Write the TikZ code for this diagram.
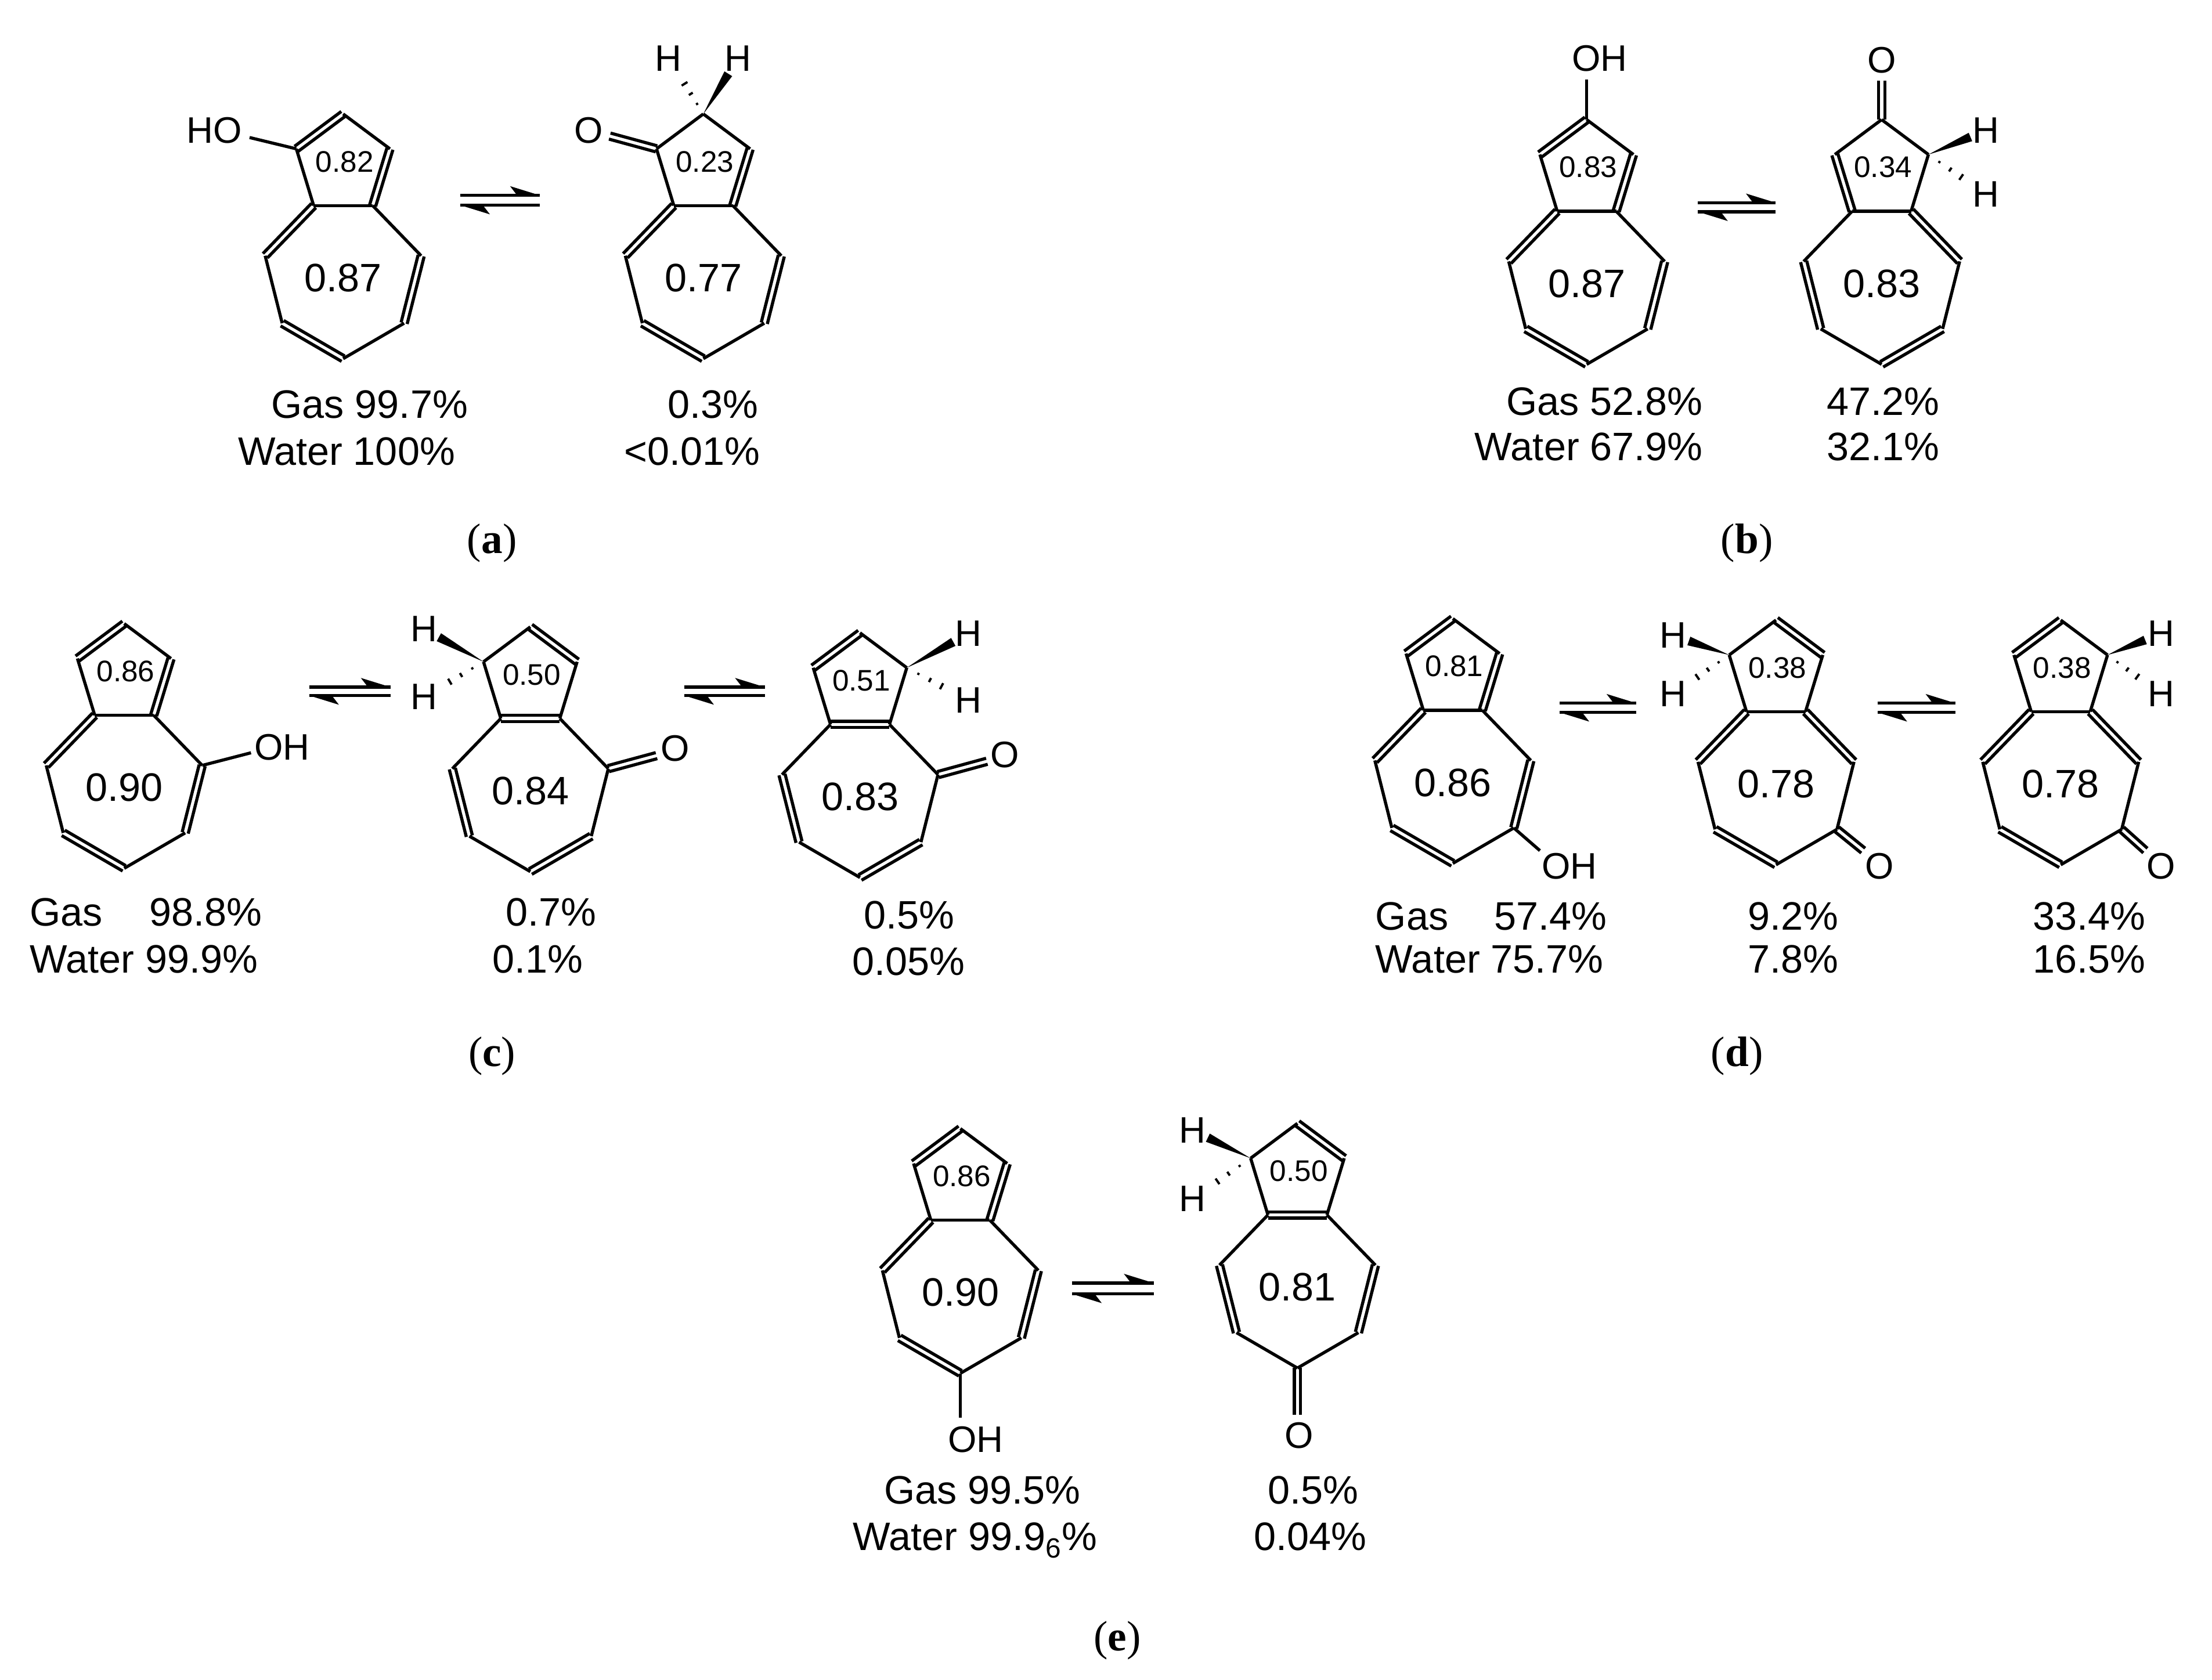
\documentclass[tikz,border=0pt]{standalone}
\usepackage{fontspec}
\setmainfont{Liberation Sans}
\newfontfamily\serifp{Liberation Serif}
\usetikzlibrary{calc}
\newcommand\dd{2.2pt}
\newcommand\dbnd[2]{\draw ($(#1)!\dd!90:(#2)$) -- ($(#2)!\dd!-90:(#1)$); \draw ($(#1)!\dd!-90:(#2)$) -- ($(#2)!\dd!90:(#1)$);}
\newcommand\azu[5]{%
 \coordinate (#1f1) at ({#2-20.8},{#3}); \coordinate (#1f2) at ({#2+20.8},{#3});
 \coordinate (#1p1) at ({#2-33},{#3-40}); \coordinate (#1p2) at ({#2},{#3-64.6}); \coordinate (#1p3) at ({#2+33},{#3-40});
 \coordinate (#1h1) at ({#2-55},{#3+35.4}); \coordinate (#1h2) at ({#2-43},{#3+83});
 \coordinate (#1h3) at ({#2},{#3+108}); \coordinate (#1h4) at ({#2+43},{#3+83}); \coordinate (#1h5) at ({#2+55},{#3+35.4});
 \node[font=\fontsize{21}{21}\selectfont] (#1n5) at ({#2+1},{#3-31}) {#4};
 \node[font=\fontsize{28}{28}\selectfont] (#1n7) at ({#2},{#3+51}) {#5};}
\newcommand\sbs[2]{\foreach \a/\b in {#2} {\draw (#1\a) -- (#1\b);}}
\newcommand\dbs[2]{\foreach \a/\b in {#2} {\dbnd{#1\a}{#1\b}}}
\newcommand\std[1]{\dbs{#1}{p1/p2,p3/f2,f1/h1,h2/h3,h4/h5}\sbs{#1}{f1/f2,p2/p3,p1/f1,h1/h2,h3/h4,h5/f2}}
\newcommand\swdg[2]{\fill (#1) -- ($(#2)!3.2pt!90:(#1)$) -- ($(#2)!3.2pt!-90:(#1)$) -- cycle;}
\newcommand\hwdg[2]{\foreach \t in {0.25,0.5,0.75,1.0} {\pgfmathsetmacro\w{3.2*\t}
  \coordinate (hm) at ($(#1)!\t!(#2)$); \draw[line width=1.6pt] ($(hm)!\w pt!90:(#2)$) -- ($(hm)!\w pt!-90:(#2)$);}}
\newcommand\eqa[4]{\draw (#1,#3) -- (#2,#3); \fill (#2,#3) -- ({#2-21},{#3-6.5}) -- ({#2-16},{#3}) -- cycle;
  \draw (#2,#4) -- (#1,#4); \fill (#1,#4) -- ({#1+21},{#4+6.5}) -- ({#1+16},{#4}) -- cycle;}
\tikzset{lab/.style={font=\fontsize{26}{26}\selectfont,inner sep=0pt},
  pc/.style={font=\fontsize{28}{28}\selectfont,inner sep=0pt},
  pan/.style={font=\serifp\fontsize{30}{30}\selectfont}}
\begin{document}
\begin{tikzpicture}[x=1pt,y=-1pt,line width=2.2pt]
\useasboundingbox (0,0) rectangle (1560,1185);
% (a)
\azu{aA}{242}{145}{0.82}{0.87}\std{aA}
\node[lab] (aAOH) at (151,92) {HO}; \coordinate (aAo) at (176,97); \draw (aAp1) -- (aAo);
\azu{aB}{496}{145}{0.23}{0.77}
\dbs{aB}{p3/f2,f1/h1,h2/h3,h4/h5}\sbs{aB}{f1/f2,p2/p3,p1/p2,p1/f1,h1/h2,h3/h4,h5/f2}
\node[lab] (aBO) at (415,92) {O}; \coordinate (aBo) at (430,96); \dbnd{aBp1}{aBo}
\node[lab] (aBH1) at (471.5,41) {H}; \node[lab] (aBH2) at (520.5,41) {H};
\hwdg{aBp2}{$(aBH1)!13pt!(aBp2)$} \swdg{aBp2}{$(aBH2)!13pt!(aBp2)$}
\eqa{324.5}{380.7}{137.8}{144.7}
\node[pc,anchor=base east] (aG1) at (331,295) {Gas 99.7\%};
\node[pc,anchor=base east] (aW1) at (322,328) {Water 100\%};
\node[pc,anchor=base east] (aG2) at (536,295) {0.3\%};
\node[pc,anchor=base east] (aW2) at (537,328) {<0.01\%};
\node[pan] (la) at (347,383) {(\textbf{a})};
% (b)
\azu{bA}{1119}{149}{0.83}{0.87}\std{bA}
\node[lab] (bAOH) at (1128,41) {OH}; \coordinate (bAo) at (1119,56); \draw (bAp2) -- (bAo);
\azu{bB}{1327}{149}{0.34}{0.83}
\dbs{bB}{p1/f1,f2/h5,h1/h2,h3/h4}\sbs{bB}{f1/f2,f2/p3,p3/p2,p2/p1,f1/h1,h2/h3,h4/h5}
\node[lab] (bBO) at (1327,42.5) {O}; \coordinate (bBo) at (1327,57); \dbnd{bBp2}{bBo}
\node[lab] (bBH1) at (1400.7,92) {H}; \node[lab] (bBH2) at (1400.7,137) {H};
\swdg{bBp3}{$(bBH1)!12pt!(bBp3)$} \hwdg{bBp3}{$(bBH2)!12pt!(bBp3)$}
\eqa{1197.5}{1252.3}{143}{149.4}
\node[pc,anchor=base east] (bG1) at (1202,293) {Gas 52.8\%};
\node[pc,anchor=base east] (bW1) at (1202,325) {Water 67.9\%};
\node[pc,anchor=base east] (bG2) at (1369,293) {47.2\%};
\node[pc,anchor=base east] (bW2) at (1369,325) {32.1\%};
\node[pan] (lb) at (1232,383) {(\textbf{b})};
% (c)
\azu{cA}{87.6}{504.5}{0.86}{0.90}\std{cA}
\node[lab] (cAOH) at (199,527) {OH}; \coordinate (cAo) at (177,531); \draw (cAh5) -- (cAo);
\azu{cB}{374}{506.8}{0.50}{0.84}
\dbs{cB}{f1/f2,p2/p3,h1/h2,h3/h4}\sbs{cB}{f2/p3,p1/p2,p1/f1,f1/h1,h2/h3,h4/h5,h5/f2}
\node[lab] (cBO) at (476,528) {O}; \coordinate (cBo) at (463,533); \dbnd{cBh5}{cBo}
\node[lab] (cBH1) at (299,443.7) {H}; \node[lab] (cBH2) at (299,491.6) {H};
\swdg{cBp1}{$(cBH1)!12pt!(cBp1)$} \hwdg{cBp1}{$(cBH2)!12pt!(cBp1)$}
\azu{cC}{606.5}{511}{0.51}{0.83}
\dbs{cC}{f1/f2,p1/p2,h1/h2,h3/h4}\sbs{cC}{f2/p3,p2/p3,p1/f1,f1/h1,h2/h3,h4/h5,h5/f2}
\node[lab] (cCO) at (708.8,532.2) {O}; \coordinate (cCo) at (696,537); \dbnd{cCh5}{cCo}
\node[lab] (cCH1) at (682.8,447) {H}; \node[lab] (cCH2) at (682.8,494) {H};
\swdg{cCp3}{$(cCH1)!12pt!(cCp3)$} \hwdg{cCp3}{$(cCH2)!12pt!(cCp3)$}
\eqa{218}{275.5}{484.7}{490.6}
\eqa{482.5}{539.4}{484.7}{490.6}
\node[pc,anchor=base west] (cG0) at (20,653) {Gas};
\node[pc,anchor=base east] (cG1) at (186,653) {98.8\%};
\node[pc,anchor=base west] (cW1) at (20,686.4) {Water 99.9\%};
\node[pc,anchor=base east] (cG2) at (421.5,653) {0.7\%};
\node[pc,anchor=base east] (cW2) at (412.4,686.4) {0.1\%};
\node[pc,anchor=base east] (cG3) at (674.2,655) {0.5\%};
\node[pc,anchor=base east] (cW3) at (681.4,688) {0.05\%};
\node[pan] (lc) at (347,745) {(\textbf{c})};
% (d)
\azu{dA}{1024.6}{501}{0.81}{0.86}\std{dA}
\node[lab] (dAOH) at (1106.9,611) {OH}; \coordinate (dAo) at (1086,600); \draw (dAh4) -- (dAo);
\azu{dB}{1252.5}{502}{0.38}{0.78}
\dbs{dB}{p2/p3,f1/h1,f2/h5,h2/h3}\sbs{dB}{f1/f2,f2/p3,p1/p2,p1/f1,h1/h2,h3/h4,h4/h5}
\node[lab] (dBO) at (1325.4,611) {O}; \coordinate (dBo) at (1314,600); \dbnd{dBh4}{dBo}
\node[lab] (dBH1) at (1179.7,448.2) {H}; \node[lab] (dBH2) at (1179.7,489.5) {H};
\swdg{dBp1}{$(dBH1)!12pt!(dBp1)$} \hwdg{dBp1}{$(dBH2)!12pt!(dBp1)$}
\azu{dC}{1453.3}{502}{0.38}{0.78}
\dbs{dC}{p1/p2,f1/h1,f2/h5,h2/h3}\sbs{dC}{f1/f2,f2/p3,p2/p3,p1/f1,h1/h2,h3/h4,h4/h5}
\node[lab] (dCO) at (1524,611) {O}; \coordinate (dCo) at (1513,600); \dbnd{dCh4}{dCo}
\node[lab] (dCH1) at (1524,447) {H}; \node[lab] (dCH2) at (1524,489.5) {H};
\swdg{dCp3}{$(dCH1)!12pt!(dCp3)$} \hwdg{dCp3}{$(dCH2)!12pt!(dCp3)$}
\eqa{1099.8}{1154}{496}{502.5}
\eqa{1324}{1379}{496}{502.5}
\node[pc,anchor=base west] (dG0) at (969,655.8) {Gas};
\node[pc,anchor=base east] (dG1) at (1134.4,655.8) {57.4\%};
\node[pc,anchor=base west] (dW1) at (969,686.4) {Water 75.7\%};
\node[pc,anchor=base east] (dG2) at (1297.8,655.8) {9.2\%};
\node[pc,anchor=base east] (dW2) at (1297.8,686.4) {7.8\%};
\node[pc,anchor=base east] (dG3) at (1514.3,655.8) {33.4\%};
\node[pc,anchor=base east] (dW3) at (1514.3,686.4) {16.5\%};
\node[pan] (ld) at (1225,745) {(\textbf{d})};
% (e)
\azu{eA}{677.3}{860.7}{0.86}{0.90}\std{eA}
\node[lab] (eAOH) at (688,1015.3) {OH}; \coordinate (eAo) at (677.3,1000); \draw (eAh3) -- (eAo);
\azu{eB}{915}{857}{0.50}{0.81}
\dbs{eB}{f1/f2,p2/p3,h1/h2,h4/h5}\sbs{eB}{f2/p3,p1/p2,p1/f1,f1/h1,h2/h3,h3/h4,h5/f2}
\node[lab] (eBO) at (916,1012.7) {O}; \coordinate (eBo) at (915,998); \dbnd{eBh3}{eBo}
\node[lab] (eBH1) at (841,797.3) {H}; \node[lab] (eBH2) at (841,845.6) {H};
\swdg{eBp1}{$(eBH1)!12pt!(eBp1)$} \hwdg{eBp1}{$(eBH2)!12pt!(eBp1)$}
\eqa{756}{813.6}{905}{912.7}
\node[pc,anchor=base east] (eG1) at (763.2,1061) {Gas 99.5\%};
\node[pc,anchor=base east] (eW1) at (774.7,1093.6) {Water 99.9\textsubscript{6}\%};
\node[pc,anchor=base east] (eG2) at (959.2,1061) {0.5\%};
\node[pc,anchor=base east] (eW2) at (965,1093.6) {0.04\%};
\node[pan] (le) at (788,1157) {(\textbf{e})};
\end{tikzpicture}
\end{document}
